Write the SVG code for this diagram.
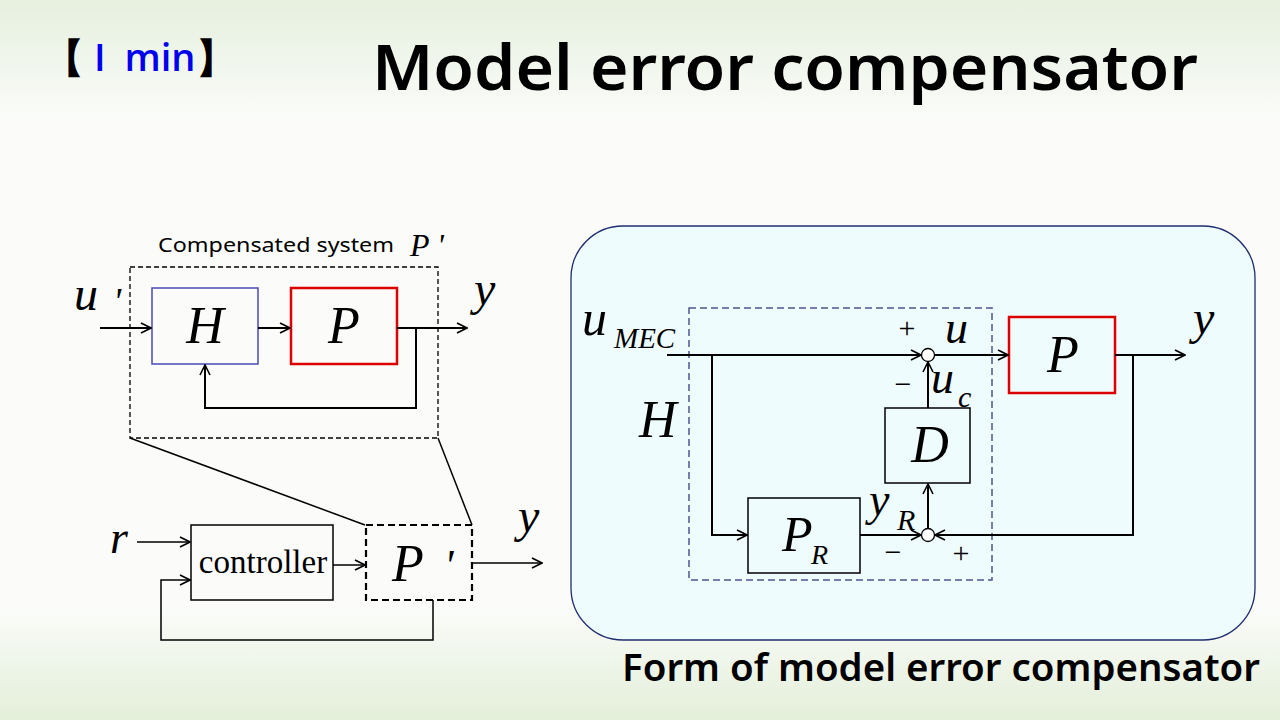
<svg xmlns="http://www.w3.org/2000/svg" width="1280" height="720" viewBox="0 0 1280 720">
<defs>
<linearGradient id="bg" x1="0" y1="0" x2="0" y2="1">
<stop offset="0" stop-color="#e6f0de"/>
<stop offset="0.17" stop-color="#fbfcfa"/>
<stop offset="0.84" stop-color="#fbfcfa"/>
<stop offset="1" stop-color="#e3efd9"/>
</linearGradient>
<marker id="ar" viewBox="0 0 12 12" refX="11" refY="6" markerWidth="12" markerHeight="12" markerUnits="userSpaceOnUse" orient="auto">
<path d="M1,1 L11,6 L1,11" fill="none" stroke="#000" stroke-width="1.6"/>
</marker>
<style>
.ln{fill:none;stroke:#000;stroke-width:2}
.ln1{fill:none;stroke:#000;stroke-width:1.5}
.box{fill:none;stroke:#000;stroke-width:1.5}
.hbox{fill:none;stroke:#4a4ab8;stroke-width:1.5}
.pbox{fill:none;stroke:#dd0000;stroke-width:2.5}
.math{font-family:"Liberation Serif",serif;font-style:italic;fill:#000}
.sign{font-family:"Liberation Serif",serif;fill:#000;text-anchor:middle}
.ui{font-family:"Noto Sans",sans-serif;fill:#000}
</style>
</defs>
<rect width="1280" height="720" fill="url(#bg)"/>

<g id="header">
<text x="44" y="72" class="ui" font-size="40" font-weight="bold">【</text>
<text x="94" y="71" font-family="'Open Sans',sans-serif" font-size="38" font-weight="600" fill="#0000ee" word-spacing="9">I min</text>
<text x="196" y="72" class="ui" font-size="40" font-weight="bold">】</text>
<text x="372" y="90" class="ui" font-size="64" font-weight="600" textLength="826" lengthAdjust="spacingAndGlyphs">Model error compensator</text>
</g>

<!-- Left top: compensated system -->
<g id="compensated-system">
<rect x="130" y="267" width="308" height="171" fill="none" stroke="#000" stroke-width="1.3" stroke-dasharray="5,3"/>
<text x="158" y="252" class="ui" font-size="20" textLength="236" lengthAdjust="spacingAndGlyphs">Compensated system</text>
<text x="410" y="256" class="math" font-size="32">P '</text>
</g>
<g id="node-H-left">
<rect x="152" y="288" width="106" height="76" class="hbox"/>
<text x="205" y="343" class="math" font-size="52" text-anchor="middle">H</text>
</g>
<g id="node-P-left">
<rect x="291" y="288" width="106" height="76" class="pbox"/>
<text x="344" y="343" class="math" font-size="52" text-anchor="middle">P</text>
</g>
<g id="labels-left-top">
<text x="74" y="310" class="math" font-size="48">u</text>
<text x="113" y="314" class="math" font-size="38">'</text>
<text x="474" y="305" class="math" font-size="48">y</text>
</g>

<!-- Left bottom -->
<g id="node-controller">
<rect x="191" y="525" width="142" height="75" class="box"/>
<text x="263" y="573" font-family="Liberation Serif,serif" font-size="33" text-anchor="middle">controller</text>
</g>
<g id="node-Pprime">
<rect x="366" y="525" width="106" height="75" fill="none" stroke="#000" stroke-width="2.2" stroke-dasharray="7,4"/>
<text x="392" y="581" class="math" font-size="52">P</text>
<text x="444" y="580" class="math" font-size="44">'</text>
</g>
<g id="labels-left-bottom">
<text x="110" y="553" class="math" font-size="46">r</text>
<text x="518" y="532" class="math" font-size="48">y</text>
</g>

<!-- Right panel -->
<g id="panel">
<rect x="571" y="226" width="684" height="414" rx="52" fill="#effcfd" stroke="#1f2d6e" stroke-width="1.3"/>
<rect x="689" y="308" width="303" height="272" fill="none" stroke="#4f5590" stroke-width="1.5" stroke-dasharray="7,4"/>
</g>
<g id="node-P-right">
<rect x="1009" y="317" width="106" height="76" class="pbox"/>
<text x="1063" y="372" class="math" font-size="52" text-anchor="middle">P</text>
</g>
<g id="node-D">
<rect x="885" y="408" width="85" height="75" class="box"/>
<text x="930" y="462" class="math" font-size="52" text-anchor="middle">D</text>
</g>
<g id="node-PR">
<rect x="748" y="498" width="112" height="75" class="box"/>
<text x="782" y="551" class="math" font-size="50">P</text>
<text x="811" y="564" class="math" font-size="28">R</text>
</g>
<g id="sum-top">
<circle cx="928" cy="355" r="6.5" fill="#fff" stroke="#000" stroke-width="1.3"/>
</g>
<g id="sum-bottom">
<circle cx="928" cy="535" r="6.5" fill="#fff" stroke="#000" stroke-width="1.3"/>
</g>
<g id="labels-right">
<text x="582" y="335" class="math" font-size="50">u</text>
<text x="614" y="348" class="math" font-size="29">MEC</text>
<text x="639" y="437" class="math" font-size="52">H</text>
<text x="1193" y="334" class="math" font-size="48">y</text>
<text x="907" y="338" class="sign" font-size="30">+</text>
<text x="945" y="343" class="math" font-size="46">u</text>
<text x="903" y="394" class="sign" font-size="30">−</text>
<text x="931" y="393" class="math" font-size="46">u</text>
<text x="958" y="407" class="math" font-size="30">c</text>
<text x="869" y="515" class="math" font-size="46">y</text>
<text x="897" y="530" class="math" font-size="30">R</text>
<text x="893" y="562" class="sign" font-size="30">−</text>
<text x="961" y="563" class="sign" font-size="30">+</text>
</g>

<g id="connectors">
<!-- left top -->
<line x1="100" y1="328" x2="151" y2="328" class="ln" marker-end="url(#ar)"/>
<line x1="258" y1="328" x2="290" y2="328" class="ln" marker-end="url(#ar)"/>
<line x1="397" y1="328" x2="467" y2="328" class="ln" marker-end="url(#ar)"/>
<polyline points="416,328 416,408 205,408 205,365" class="ln" marker-end="url(#ar)"/>
<!-- zoom lines -->
<line x1="130" y1="438" x2="365" y2="525" class="ln1"/>
<line x1="438" y1="438" x2="472" y2="525" class="ln1"/>
<!-- left bottom -->
<line x1="137" y1="542" x2="190" y2="542" class="ln1" marker-end="url(#ar)"/>
<line x1="333" y1="565" x2="365" y2="565" class="ln1" marker-end="url(#ar)"/>
<line x1="472" y1="563" x2="542" y2="563" class="ln1" marker-end="url(#ar)"/>
<polyline points="433,600 433,640 161,640 161,580 190,580" class="ln1" marker-end="url(#ar)"/>
<!-- right -->
<line x1="667" y1="355" x2="921" y2="355" class="ln" marker-end="url(#ar)"/>
<line x1="934" y1="355" x2="1008" y2="355" class="ln" marker-end="url(#ar)"/>
<line x1="1115" y1="355" x2="1185" y2="355" class="ln" marker-end="url(#ar)"/>
<polyline points="1133,355 1133,535 935,535" class="ln" marker-end="url(#ar)"/>
<polyline points="712,355 712,535 747,535" class="ln" marker-end="url(#ar)"/>
<line x1="860" y1="535" x2="921" y2="535" class="ln" marker-end="url(#ar)"/>
<line x1="928" y1="528" x2="928" y2="484" class="ln" marker-end="url(#ar)"/>
<line x1="928" y1="408" x2="928" y2="362" class="ln" marker-end="url(#ar)"/>
</g>

<g id="footer">
<text x="622" y="681" class="ui" font-size="38" font-weight="600" textLength="638" lengthAdjust="spacingAndGlyphs">Form of model error compensator</text>
</g>
</svg>
